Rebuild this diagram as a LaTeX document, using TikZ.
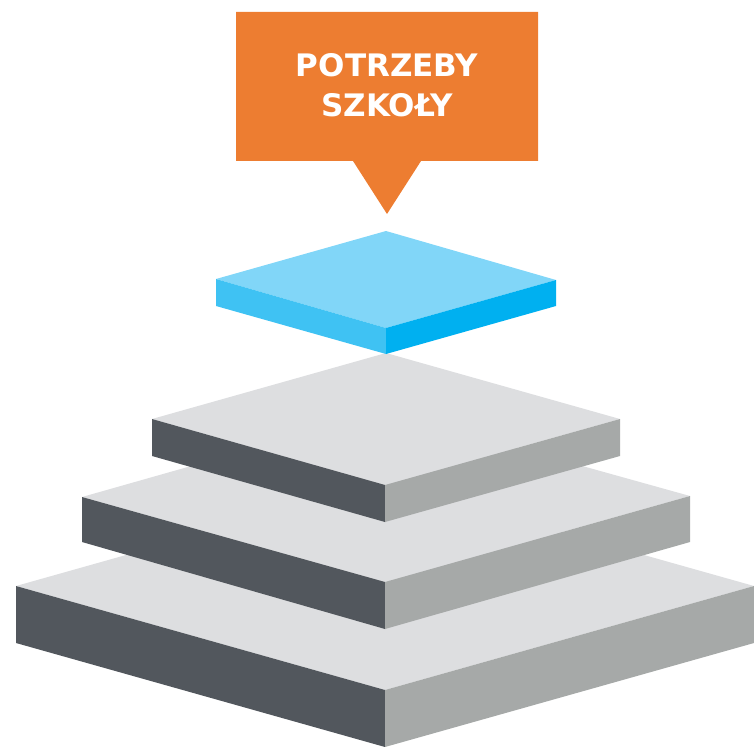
\documentclass[tikz,border=0pt]{standalone}
\usepackage{fontspec}
\setmainfont{DejaVu Sans}
\definecolor{orng}{HTML}{ED7D31}
\definecolor{btop}{HTML}{81D6F8}
\definecolor{bleft}{HTML}{3FC2F3}
\definecolor{bright}{HTML}{00B0F0}
\definecolor{gtop}{HTML}{DDDEE0}
\definecolor{gleft}{HTML}{52575D}
\definecolor{gright}{HTML}{A6A9A8}
\begin{document}
\begin{tikzpicture}[x=1pt,y=-1pt]
\useasboundingbox (0,0) rectangle (754,746);
% bottom slab
\fill[gtop]   (16,586) -- (385,482) -- (754,586) -- (385,690) -- cycle;
\fill[gleft]  (16,586) -- (385,690) -- (385,747) -- (16,643) -- cycle;
\fill[gright] (385,690) -- (754,586) -- (754,643) -- (385,747) -- cycle;
% middle slab
\fill[gtop]   (82,497) -- (385,411) -- (690,496) -- (385,582) -- cycle;
\fill[gleft]  (82,497) -- (385,582) -- (385,629) -- (82,542) -- cycle;
\fill[gright] (385,582) -- (690,496) -- (690,542) -- (385,629) -- cycle;
% top gray slab
\fill[gtop]   (152,419) -- (386,353) -- (620,419) -- (385,485) -- cycle;
\fill[gleft]  (152,419) -- (385,485) -- (385,522) -- (152,456) -- cycle;
\fill[gright] (385,485) -- (620,419) -- (620,456) -- (385,522) -- cycle;
% blue slab
\fill[btop]   (216,279) -- (386,231) -- (556,280) -- (386,328) -- cycle;
\fill[bleft]  (216,279) -- (386,328) -- (386,354) -- (216,306) -- cycle;
\fill[bright] (386,328) -- (556,280) -- (556,306) -- (386,354) -- cycle;
% callout
\fill[orng] (236,12) -- (538,12) -- (538,161) -- (421,161) -- (387,214) -- (353,161) -- (236,161) -- cycle;
\node[text=white, font=\fontsize{31}{40}\selectfont\bfseries, align=center, inner sep=0pt] (label) at (387,85) {POTRZEBY\\SZKOŁY};
\end{tikzpicture}
\end{document}
